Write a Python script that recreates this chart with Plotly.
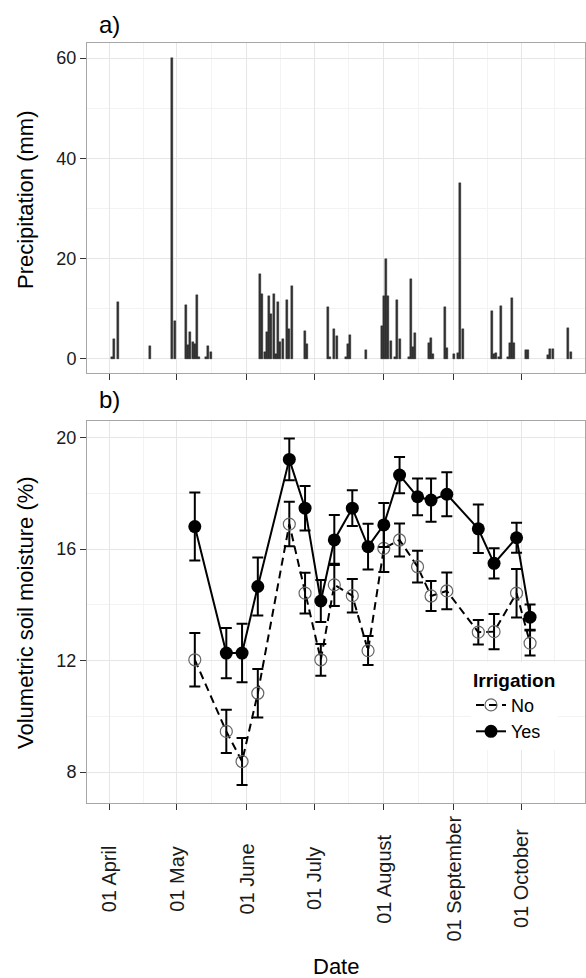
import pandas as pd
import plotly.graph_objects as go

# ---------------- data ----------------
precip_dates = [
    "2013-04-02", "2013-04-03", "2013-04-05", "2013-04-19", "2013-04-29", "2013-04-30",
    "2013-05-05", "2013-05-06", "2013-05-07", "2013-05-08", "2013-05-09", "2013-05-10",
    "2013-05-11", "2013-05-14", "2013-05-15", "2013-05-16",
    "2013-06-07", "2013-06-08", "2013-06-09", "2013-06-10", "2013-06-11", "2013-06-12",
    "2013-06-13", "2013-06-14", "2013-06-15", "2013-06-16", "2013-06-17", "2013-06-19",
    "2013-06-20", "2013-06-21", "2013-06-27", "2013-06-28",
    "2013-07-07", "2013-07-08", "2013-07-10", "2013-07-11", "2013-07-15", "2013-07-16",
    "2013-07-17", "2013-07-24", "2013-07-31",
    "2013-08-01", "2013-08-02", "2013-08-03", "2013-08-04", "2013-08-06", "2013-08-07",
    "2013-08-08", "2013-08-12", "2013-08-13", "2013-08-14", "2013-08-15", "2013-08-21",
    "2013-08-22", "2013-08-23", "2013-08-28", "2013-08-29",
    "2013-09-01", "2013-09-03", "2013-09-04", "2013-09-05", "2013-09-18", "2013-09-19",
    "2013-09-20", "2013-09-21", "2013-09-22", "2013-09-25", "2013-09-26", "2013-09-27",
    "2013-09-28",
    "2013-10-03", "2013-10-04", "2013-10-13", "2013-10-14", "2013-10-15", "2013-10-22",
    "2013-10-23",
]
precip_mm = [
    0.3, 4.0, 11.4, 2.5, 60.0, 7.6,
    10.7, 2.8, 5.3, 3.3, 3.0, 12.7,
    0.3, 0.3, 2.6, 1.3,
    17.0, 12.9, 1.3, 5.4, 12.6, 9.0,
    12.9, 1.0, 11.4, 3.3, 4.0, 11.7,
    6.0, 14.6, 5.6, 3.0,
    10.4, 0.3, 6.0, 4.5, 0.3, 3.0,
    4.8, 1.8, 6.6,
    12.6, 19.9, 12.6, 3.6, 0.3, 11.8,
    4.0, 0.3, 15.9, 2.3, 5.1, 3.2,
    4.1, 1.0, 10.4, 2.2,
    0.9, 1.2, 35.1, 6.0, 9.6, 1.0,
    1.2, 0.3, 10.6, 0.3, 3.1, 12.1,
    3.1,
    1.7, 1.7, 0.8, 1.9, 1.9, 6.1,
    1.3,
]

sm_dates = [
    "2013-05-09", "2013-05-23", "2013-05-30", "2013-06-06", "2013-06-20", "2013-06-27",
    "2013-07-04", "2013-07-10", "2013-07-18", "2013-07-25", "2013-08-01", "2013-08-08",
    "2013-08-16", "2013-08-22", "2013-08-29", "2013-09-12", "2013-09-19", "2013-09-29",
    "2013-10-05",
]
sm_no = [12.03, 9.46, 8.38, 10.83, 16.90, 14.42, 12.03, 14.72, 14.33, 12.36,
         16.03, 16.33, 15.37, 14.32, 14.50, 13.02, 13.04, 14.42, 12.63]
sm_no_se = [0.96, 0.78, 0.84, 0.87, 0.80, 0.73, 0.57, 0.76, 0.60, 0.52,
            0.85, 0.59, 0.57, 0.54, 0.66, 0.44, 0.63, 0.87, 0.45]
sm_yes = [16.81, 12.27, 12.27, 14.66, 19.22, 17.47, 14.14, 16.33, 17.47, 16.09,
          16.87, 18.66, 17.88, 17.76, 17.97, 16.73, 15.49, 16.41, 13.56]
sm_yes_se = [1.22, 0.90, 1.05, 1.04, 0.75, 0.80, 0.75, 0.90, 0.64, 0.82,
             0.79, 0.65, 0.66, 0.78, 0.79, 0.87, 0.54, 0.54, 0.45]

month_ticks = ["2013-04-01", "2013-05-01", "2013-06-01", "2013-07-01",
               "2013-08-01", "2013-09-01", "2013-10-01"]
month_labels = ["01 April", "01 May", "01 June", "01 July",
                "01 August", "01 September", "01 October"]

precip_ticks = [0, 20, 40, 60]
sm_ticks = [8, 12, 16, 20]

# minor gridlines: midpoints between month breaks (ggplot style)
mt = pd.to_datetime(month_ticks)
mids = [mt[i] + (mt[i + 1] - mt[i]) / 2 for i in range(len(mt) - 1)]
mids.append(mt[-1] + (mt[-1] - mt[-2]) / 2)
minor_x = [m.strftime("%Y-%m-%d %H:%M") for m in mids]

# ---------------- figure ----------------
FONT = "Liberation Sans, Arial, sans-serif"
GRID = "#e6e6e6"
GRID_MINOR = "#f3f3f3"
BORDER = "#a6a6a6"
TICKC = "#333333"
XRANGE = ["2013-03-22 02:00", "2013-10-29 10:00"]

fig = go.Figure()

fig.add_trace(go.Bar(
    x=precip_dates, y=precip_mm, width=86400000 * 0.9,
    marker=dict(color="#333333", line=dict(color="#1a1a1a", width=0.4)),
    showlegend=False, xaxis="x", yaxis="y",
))

fig.add_trace(go.Scatter(
    x=sm_dates, y=sm_no, name="No", mode="lines+markers",
    line=dict(color="black", width=2, dash="8px,5px"),
    marker=dict(symbol="circle-open", size=12, color="#666666", line=dict(width=1.2, color="#666666")),
    error_y=dict(type="data", array=sm_no_se, color="black", thickness=2, width=5.5),
    xaxis="x2", yaxis="y2",
))
fig.add_trace(go.Scatter(
    x=sm_dates, y=sm_yes, name="Yes", mode="lines+markers",
    line=dict(color="black", width=2),
    marker=dict(symbol="circle", size=13, color="black"),
    error_y=dict(type="data", array=sm_yes_se, color="black", thickness=2, width=5.5),
    xaxis="x2", yaxis="y2",
))

H_PLOT = 760.0
B_MARG = 175.0
def ypap(py):
    return (978 - B_MARG - py) / H_PLOT

def xpap(px):
    return (px - 87) / 498.0

xaxis_common = dict(
    type="date", range=XRANGE, tickmode="array", tickvals=month_ticks,
    showticklabels=False, ticks="outside", ticklen=6, tickwidth=1, tickcolor=TICKC,
    showgrid=True, gridcolor=GRID, gridwidth=1,
    minor=dict(tickmode="array", tickvals=minor_x, showgrid=True, gridcolor=GRID_MINOR, gridwidth=1, ticks=""),
    showline=True, linecolor=BORDER, linewidth=1, mirror=True, zeroline=False,
)

fig.update_layout(
    width=586, height=978,
    margin=dict(l=87, r=1, t=43, b=B_MARG),
    paper_bgcolor="white", plot_bgcolor="white",
    font=dict(family=FONT, color="black", size=18),
    bargap=0,
    xaxis=dict(domain=[0, 1], anchor="y", **xaxis_common),
    xaxis2=dict(domain=[0, 1], anchor="y2", **xaxis_common),
    yaxis=dict(
        domain=[ypap(373), 1], anchor="x", range=[-2.8, 63],
        tickmode="array", tickvals=precip_ticks, ticks="outside", ticklen=6, tickcolor=TICKC,
        tickfont=dict(size=18, color="#1a1a1a"),
        showgrid=True, gridcolor=GRID,
        minor=dict(dtick=10, tick0=0, showgrid=True, gridcolor=GRID_MINOR, ticks=""),
        showline=True, linecolor=BORDER, mirror=True, zeroline=False,
    ),
    yaxis2=dict(
        domain=[0, ypap(420.7)], anchor="x2", range=[6.89, 20.61],
        tickmode="array", tickvals=sm_ticks, ticks="outside", ticklen=6, tickcolor=TICKC,
        tickfont=dict(size=18, color="#1a1a1a"),
        showgrid=True, gridcolor=GRID,
        minor=dict(dtick=2, tick0=0, showgrid=True, gridcolor=GRID_MINOR, ticks=""),
        showline=True, linecolor=BORDER, mirror=True, zeroline=False,
    ),
    legend=dict(
        x=xpap(471), y=ypap(662), xanchor="left", yanchor="top",
        bgcolor="white", borderwidth=0,
        title=dict(text="<b>Irrigation</b>", font=dict(size=19)),
        font=dict(size=18), itemwidth=30, tracegroupgap=0,
    ),
)

ann = []
ann.append(dict(text="a)", x=xpap(97), y=ypap(24), xref="paper", yref="paper",
                xanchor="left", yanchor="middle", showarrow=False, font=dict(size=24)))
ann.append(dict(text="b)", x=xpap(97), y=ypap(400), xref="paper", yref="paper",
                xanchor="left", yanchor="middle", showarrow=False, font=dict(size=24)))
ann.append(dict(text="Precipitation (mm)", x=xpap(25), y=ypap(200), xref="paper", yref="paper",
                xanchor="center", yanchor="middle", textangle=-90, showarrow=False, font=dict(size=22)))
ann.append(dict(text="Volumetric soil moisture (%)", x=xpap(25), y=ypap(613), xref="paper", yref="paper",
                xanchor="center", yanchor="middle", textangle=-90, showarrow=False, font=dict(size=22)))
ann.append(dict(text="Date", x=xpap(336), y=ypap(966), xref="paper", yref="paper",
                xanchor="center", yanchor="middle", showarrow=False, font=dict(size=22)))
for tv, tl in zip(month_ticks, month_labels):
    ann.append(dict(text=tl, x=tv, xref="x2", y=ypap(879), yref="paper",
                    xanchor="center", yanchor="middle", textangle=-90, showarrow=False,
                    font=dict(size=20, color="#1a1a1a")))
fig.update_layout(annotations=ann)

fig.write_html(
    "out.html",
    config={"displayModeBar": False},
    post_script="document.body.style.margin='0';document.body.style.padding='0';document.body.style.overflow='hidden';",
)
